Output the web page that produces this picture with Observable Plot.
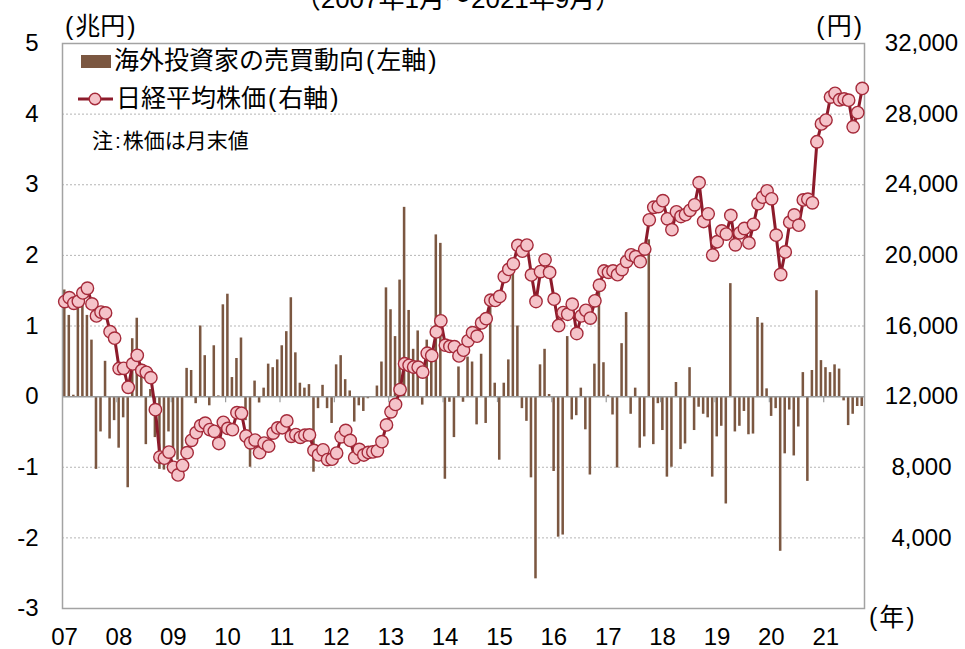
<!DOCTYPE html>
<html>
<head>
<meta charset="utf-8">
<script src="https://cdn.jsdelivr.net/npm/d3@7"></script>
<script src="https://cdn.jsdelivr.net/npm/@observablehq/plot@0.6"></script>
<style>
  body { margin: 0; background: #fff; }
  #wrap { position: relative; width: 965px; height: 649px; overflow: hidden; background: #fff;
          font-family: "Liberation Sans", "Noto Sans CJK JP", sans-serif; color: #000; }
  #wrap svg { position: absolute; left: 0; top: 0; }
  .lbl { position: absolute; white-space: nowrap; }
  .p { display: inline-block; padding: 0 2px; }
</style>
</head>
<body>
<div id="wrap"></div>
<script>
// ---- data ----
const yearLabels = ["07","08","09","10","11","12","13","14","15","16","17","18","19","20","21"];
const leftTicks = [-3,-2,-1,0,1,2,3,4,5];
const rightTicks = [4000,8000,12000,16000,20000,24000,28000,32000];

// Nikkei 225, month-end (yen), 2007/1 - 2021/9
const nikkei = [
  17383,17604,17288,17400,17876,18138,17249,16569,16786,16738,15681,15308,
  13592,13603,12526,13850,14339,13481,13377,13073,11260,8577,8512,8860,
  7994,7568,8110,8828,9523,9958,10357,10493,10133,10035,9346,10546,
  10198,10126,11090,11057,9769,9383,9537,8824,9369,9202,9937,10229,
  10238,10624,9755,9850,9694,9816,9833,8955,8700,8988,8435,8455,
  8803,9723,10084,9521,8543,9007,8695,8840,8870,8928,9446,10395,
  11139,11559,12398,13861,13775,13677,13668,13389,14456,14328,15662,16291,
  14915,14841,14828,14304,14632,15162,15621,15425,16174,16414,17460,17451,
  17674,18798,19207,19520,20563,20236,20585,18890,17388,19083,19747,19034,
  17518,16027,16759,16666,17235,15576,16569,16887,16450,17425,18308,19114,
  19041,19119,18909,19197,19651,20033,19925,19646,20356,22012,22725,22765,
  23098,22068,21454,22468,22202,22305,22554,22865,24120,21920,22351,20015,
  20773,21385,21206,22259,20601,21276,21522,20704,21756,22927,23294,23657,
  23205,21143,18917,20194,21878,22288,21710,23140,23185,22977,26434,27444,
  27663,28966,29179,28813,28860,28792,27284,28090,29453
];

// foreign investors' net buying (trillion yen)
const flows = [
  1.51,1.15,0.02,1.36,1.30,1.15,0.80,-1.03,-0.50,0.50,-0.60,-0.34,
  -0.73,-0.30,-1.29,0.82,1.11,0.46,-0.68,0.10,-0.58,-1.03,-1.04,-0.50,
  -0.86,-0.90,-0.83,0.40,0.37,-0.10,1.00,0.58,-0.13,0.72,0.01,1.30,
  1.45,0.27,0.54,0.83,-0.34,-1.00,0.22,-0.09,0.12,0.46,0.41,0.52,
  0.72,0.92,1.40,0.62,0.19,0.12,0.17,-1.07,-0.17,0.16,-0.17,-0.38,
  0.45,0.58,0.24,0.08,-0.36,-0.13,-0.21,-0.03,0.00,0.15,0.49,1.54,
  1.23,0.85,1.65,2.68,1.22,0.67,0.93,-0.12,0.80,0.60,2.29,2.17,
  -1.17,-0.08,-0.58,0.42,-0.08,0.56,0.49,-0.40,0.60,-0.38,1.26,0.19,
  -0.90,0.19,0.52,1.81,1.00,-0.17,-0.35,-1.15,-2.58,0.45,0.67,0.03,
  -1.06,-1.99,-1.96,0.85,-0.33,-0.27,0.12,-0.47,-1.11,0.46,1.50,0.48,
  0.02,-0.26,-1.01,0.75,1.19,-0.25,0.12,-0.73,-0.57,2.22,-0.68,-0.10,
  -0.48,-1.14,-1.00,0.20,-0.75,-0.67,0.41,-0.48,-0.15,-0.25,-0.30,-1.14,
  -0.57,-0.42,-1.52,1.60,-0.50,-0.42,-0.21,-0.54,-0.53,1.12,1.04,0.11,
  -0.28,-0.17,-2.19,-0.81,-0.19,-0.84,-0.43,0.34,-1.20,0.37,1.50,0.51,
  0.41,0.34,0.45,0.39,-0.06,-0.41,-0.25,-0.14,-0.14
];

// ---- build ----
const data = flows.map((v, i) => ({i, flow: v, nk: nikkei[i]}));
const yearStarts = yearLabels.map((_, k) => k * 12);
const toLeft = yen => -3 + yen / 4000;   // right axis (0..32000) onto left axis (-3..5)

const BAR = "#7b5741", LINE = "#8c1b2b", MARK = "#f5c3c9", MARKSTROKE = "#a52a3a";
const FONT = '"Liberation Sans", "Noto Sans CJK JP", sans-serif';

const chart = Plot.plot({
  width: 965, height: 649,
  marginLeft: 62, marginRight: 101, marginTop: 43, marginBottom: 41,
  x: {domain: [0, flows.length]},
  y: {domain: [-3, 5]},
  style: {fontFamily: FONT, fontSize: "24px", color: "#000", background: "transparent", overflow: "visible"},
  marks: [
    Plot.gridY(leftTicks.filter(t => t !== 0 && t !== -3 && t !== 5), {stroke: "#b5b5b5", strokeOpacity: 1, strokeDasharray: "2,2", strokeWidth: 1}),
    Plot.rectY(data, {x1: d => d.i, x2: d => d.i + 1, y: "flow", insetLeft: 1, insetRight: 1, fill: BAR}),
    Plot.ruleY([0], {stroke: "#9a9a9a", strokeWidth: 1.5}),
    Plot.ruleX(yearStarts.slice(1), {x: d => d, y1: 0, y2: 0, insetBottom: -6, stroke: "#9a9a9a", strokeWidth: 1.2}),
    Plot.frame({stroke: "#a3a3a3", strokeWidth: 1.5}),
    Plot.line(data, {x: d => d.i + 0.5, y: d => toLeft(d.nk), stroke: LINE, strokeWidth: 3}),
    Plot.dot(data, {x: d => d.i + 0.5, y: d => toLeft(d.nk), r: 6.2, fill: MARK, stroke: MARKSTROKE, strokeWidth: 1.4}),
    Plot.axisY({ticks: leftTicks, tickSize: 0, tickPadding: 24, label: null, tickFormat: d => String(d)}),
    Plot.axisY({anchor: "right", ticks: rightTicks.map(toLeft), tickSize: 0, tickPadding: 57, textAnchor: "middle", label: null,
                tickFormat: d => d3.format(",")(Math.round((d + 3) * 4000))}),
    Plot.axisX({ticks: yearStarts, tickSize: 0, tickPadding: 19, dx: 2, label: null, tickFormat: d => yearLabels[d / 12]})
  ]
});

const wrap = document.getElementById("wrap");
wrap.appendChild(chart);

function addLabel(html, css) {
  const el = document.createElement("div");
  el.className = "lbl";
  el.innerHTML = html;
  Object.assign(el.style, css);
  wrap.appendChild(el);
  return el;
}
const par = s => s.replace(/\(/g, '<span class="p">(</span>').replace(/\)/g, '<span class="p">)</span>');

// partially clipped title line at the very top
addLabel("（2007年1月～2021年9月）", {left: "0px", width: "916px", textAlign: "center", top: "-16px", fontSize: "26px", lineHeight: "30px"});
// axis units
addLabel(par("(兆円)"), {left: "63px", top: "13px", fontSize: "25px", lineHeight: "26px"});
addLabel(par("(円)"), {right: "101px", top: "13px", fontSize: "25px", lineHeight: "26px"});
addLabel(par("(年)"), {left: "867px", top: "604px", fontSize: "25px", lineHeight: "26px"});

// legend
addLabel(`<span style="display:inline-block;width:30px;height:13px;background:${BAR};vertical-align:middle;margin-right:3px;position:relative;top:-1px"></span>` + par("海外投資家の売買動向(左軸)"),
  {left: "81px", top: "47px", fontSize: "25px", lineHeight: "26px"});
addLabel(`<svg width="35" height="16" style="vertical-align:middle;margin-right:3px;position:relative;top:-1px"><line x1="0" y1="8" x2="35" y2="8" stroke="${LINE}" stroke-width="3"/><circle cx="17" cy="8" r="5.8" fill="${MARK}" stroke="${MARKSTROKE}" stroke-width="1.4"/></svg>` + par("日経平均株価(右軸)"),
  {left: "78px", top: "85px", fontSize: "25px", lineHeight: "26px"});
addLabel('注<span style="display:inline-block;padding:0 2px">:</span>株価は月末値', {left: "92px", top: "129px", fontSize: "21px", lineHeight: "24px"});
</script>
</body>
</html>
